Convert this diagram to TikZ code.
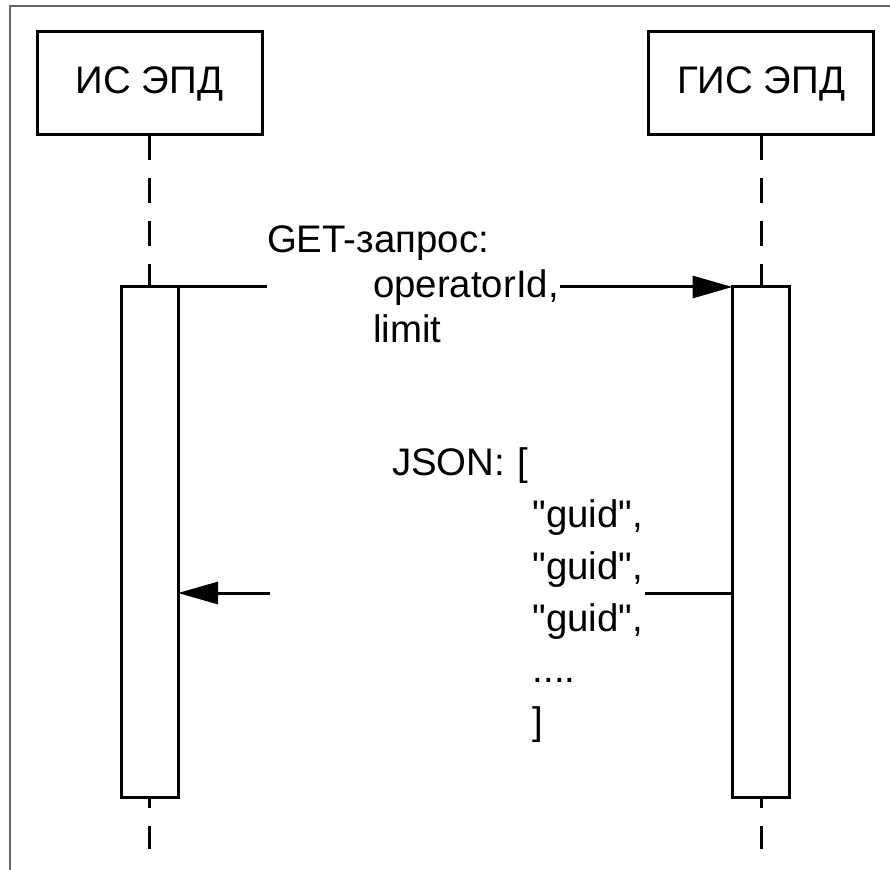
\documentclass[tikz,border=0pt]{standalone}
\usepackage{fontspec}
\setmainfont{Liberation Sans}
\usetikzlibrary{arrows.meta}
\definecolor{framec}{RGB}{105,105,105}
\begin{document}
\begin{tikzpicture}[x=0.75pt,y=-0.75pt,
  every node/.style={font=\fontsize{28.8pt}{33.4pt}\selectfont, outer sep=0pt},
  actor/.style={draw, line width=2.25pt, minimum width=168.75pt, minimum height=77.25pt, inner sep=0pt, text height=20.8pt, text depth=6.2pt},
  bar/.style={draw, fill=white, line width=2.25pt, minimum width=42.75pt, minimum height=382.5pt, inner sep=0pt},
  life/.style={line width=2.25pt, dash pattern=on 18.75pt off 13.5pt},
  msg/.style={line width=2.25pt, -{Triangle[length=30pt,width=16.5pt]}},
  lbl/.style={fill=white, inner sep=0pt, align=left, anchor=base west}
]
\useasboundingbox (0,0) rectangle (890,870);
\draw[framec, line width=1.5pt] (9.5,870) -- (9.5,6.5) -- (890,6.5);

\node[actor] (boxL) at (149.5,83.5) {ИС ЭПД};
\node[actor] (boxR) at (761,83.5) {ГИС ЭПД};

\coordinate (endL) at (149.5,849);
\coordinate (endR) at (761,849);
\coordinate (y2) at (450,593);

\path (149.5,542) node[bar] (barL) {};
\path (761,542) node[bar] (barR) {};

\draw[life] (boxL.south) -- (barL.north);
\draw[life] (boxR.south) -- (barR.north);
\draw[life, dash phase=10.5pt] (barL.south) -- (endL);
\draw[life, dash phase=10.5pt] (barR.south) -- (endR);

\node[bar] at (barL) {};
\node[bar] at (barR) {};

\draw[msg] (barL.north east) -- (barL.north east -| barR.west);
\draw[msg] (barR.west |- y2) -- (barL.east |- y2);

\node[lbl, text width=219.75pt] (m1) at (267,253)
  {GET-запрос:\\\hspace*{79.5pt}operatorId,\\\hspace*{79.5pt}limit};
\node[lbl, text width=281pt, font=\fontsize{28.8pt}{39pt}\selectfont] (m2) at (270,475)
  {\hspace*{91.5pt}JSON: [\\\hspace*{197pt}\textquotedbl guid\textquotedbl,\\\hspace*{197pt}\textquotedbl guid\textquotedbl,\\\hspace*{197pt}\textquotedbl guid\textquotedbl,\\\hspace*{197pt}....\\\hspace*{197pt}]};
\end{tikzpicture}
\end{document}
